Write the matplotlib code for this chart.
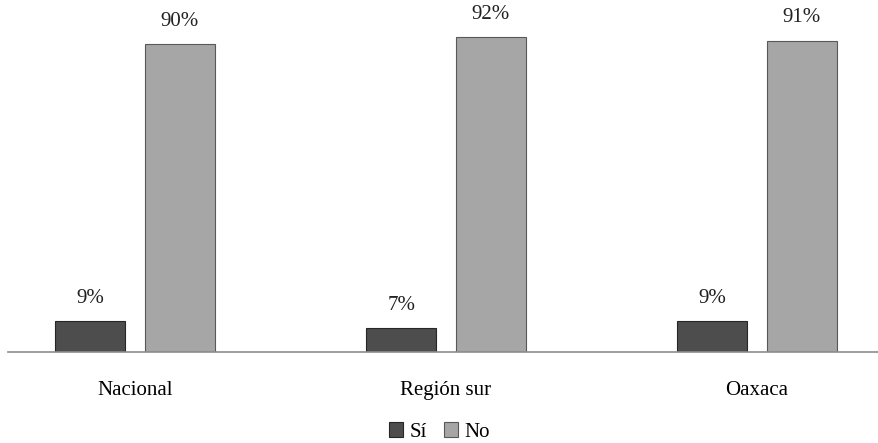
import numpy as np
import matplotlib.pyplot as plt

categorias = ['Nacional', 'Región sur', 'Oaxaca']
si = [9, 7, 9]
no = [90, 92, 91]

plt.rcParams['font.family'] = ['Liberation Serif', 'DejaVu Serif']

fig = plt.figure(figsize=(8.79, 4.43), dpi=100)
ax = fig.add_axes([8 / 879, 91 / 443, 871 / 879, 352 / 443])

x = np.arange(len(categorias))
w = 0.225
b1 = ax.bar(x - 0.1435, si, w, color='#4d4d4d', edgecolor='#262626', linewidth=0.8, label='Sí')
b2 = ax.bar(x + 0.1435, no, w, color='#a6a6a6', edgecolor='#595959', linewidth=0.8, label='No')

for bars in (b1, b2):
    for r in bars:
        ax.text(r.get_x() + r.get_width() / 2, r.get_height() + 3.9, f'{r.get_height():.0f}%',
                ha='center', va='bottom', fontsize=15, color='#222222')

ax.set_xlim(-0.408, 2.392)
ax.set_ylim(0, 102.9)
ax.set_yticks([])
ax.set_xticks(x)
ax.set_xticklabels(categorias, fontsize=15)
ax.tick_params(axis='x', length=0, pad=21)
for s in ['top', 'right', 'left']:
    ax.spines[s].set_visible(False)
ax.spines['bottom'].set_color('#8c8c8c')
ax.spines['bottom'].set_linewidth(1.2)

fig.legend(loc='center', bbox_to_anchor=(0.5, 1 - 432 / 443), ncol=2, frameon=False,
           fontsize=15, handlelength=0.7, handleheight=0.7, handletextpad=0.3, columnspacing=0.8)

fig.savefig('out.png', dpi=100)
